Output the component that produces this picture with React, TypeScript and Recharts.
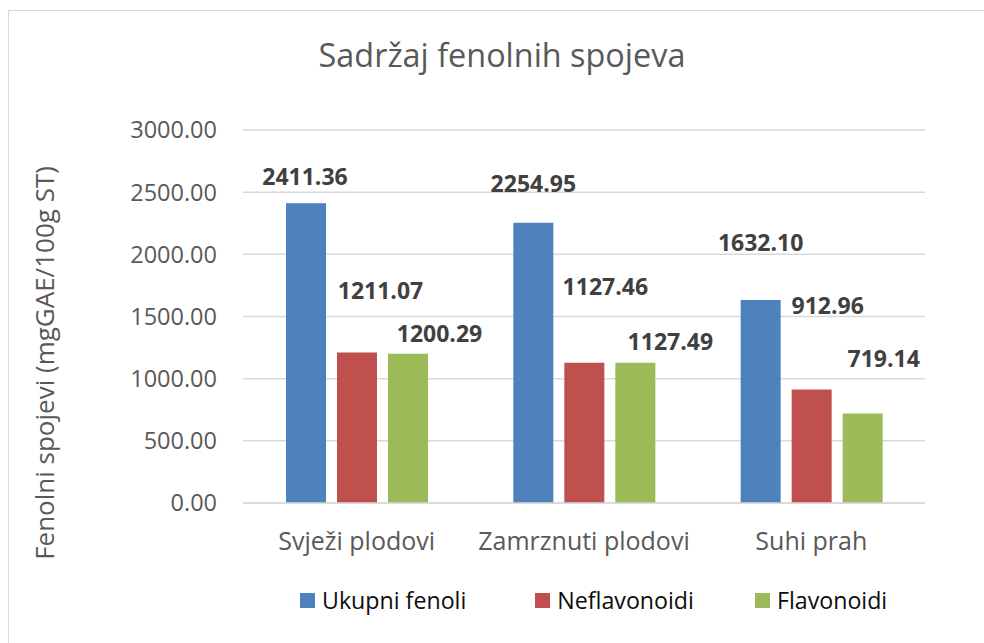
import React from 'react';
import { BarChart, Bar, XAxis, YAxis, CartesianGrid, LabelList, Legend } from 'recharts';

const categories = ['Svježi plodovi', 'Zamrznuti plodovi', 'Suhi prah'];
const ukupniFenoli = [2411.36, 2254.95, 1632.1];
const neflavonoidi = [1211.07, 1127.46, 912.96];
const flavonoidi = [1200.29, 1127.49, 719.14];
const yTicks = [0, 500, 1000, 1500, 2000, 2500, 3000];
const seriesNames = ['Ukupni fenoli', 'Neflavonoidi', 'Flavonoidi'];
const chartTitle = 'Sadržaj fenolnih spojeva';
const yAxisTitle = 'Fenolni spojevi (mgGAE/100g ST)';

const data = categories.map((c, i) => ({
  name: c,
  uk: ukupniFenoli[i],
  nef: neflavonoidi[i],
  fla: flavonoidi[i],
}));

// layout-only nudges for the data labels (dx, dy from the bar's top centre)
const labelNudges: Record<string, number[][]> = {
  uk: [[-1, -27], [0, -40], [0, -58]],
  nef: [[23.5, -62.5], [21, -76.5], [16, -84.5]],
  fla: [[31.5, -21], [35, -21.5], [21, -56]],
};
const legendGaps = [69, 61, 0];

const COLORS = { uk: '#4F81BD', nef: '#C0504D', fla: '#9BBB59' };
const FONT = '"Open Sans", sans-serif';

const makeLabel = (key: string) => (props: any) => {
  const { x, y, width, value, index } = props;
  const [dx, dy] = labelNudges[key][index];
  return (
    <text
      x={Number(x) + Number(width) / 2 + dx}
      y={Number(y) + dy}
      textAnchor="middle"
      dominantBaseline="central"
      fontFamily={FONT}
      fontSize={23}
      fontWeight={700}
      fill="#404040"
    >
      {Number(value).toFixed(2)}
    </text>
  );
};

const LegendContent = (props: any) => {
  const payload = [...(props.payload || [])].sort(
    (a: any, b: any) => seriesNames.indexOf(a.value) - seriesNames.indexOf(b.value)
  );
  return (
    <div style={{ display: 'flex', justifyContent: 'flex-start', paddingLeft: 300, fontFamily: FONT }}>
      {payload.map((p: any, i: number) => (
        <div key={i} style={{ display: 'flex', alignItems: 'center', marginRight: legendGaps[i] }}>
          <div style={{ width: 15, height: 15, background: p.color, marginRight: 7 }} />
          <span style={{ fontSize: 23.2, color: '#0d0d0d', lineHeight: '30px' }}>{p.value}</span>
        </div>
      ))}
    </div>
  );
};

export default function App() {
  return (
    <div style={{ position: 'fixed', left: 0, top: 0, width: 984, height: 643, overflow: 'hidden', background: '#fff' }}>
      <div
        style={{
          position: 'absolute',
          left: 8,
          top: 10,
          width: 1000,
          height: 700,
          border: '1px solid #D9D9D9',
          boxSizing: 'border-box',
        }}
      />
      <div
        style={{
          position: 'absolute',
          left: 0,
          width: 1004,
          top: 31,
          textAlign: 'center',
          fontFamily: FONT,
          fontSize: 32.4,
          color: '#595959',
          lineHeight: '46px',
        }}
      >
        {chartTitle}
      </div>
      <div style={{ position: 'absolute', left: 0, top: 0 }}>
        <BarChart
          width={984}
          height={643}
          data={data}
          margin={{ top: 130, right: 59, left: 143, bottom: 110 }}
          barCategoryGap={43}
          barGap={11}
        >
          <CartesianGrid vertical={false} stroke="#D9D9D9" strokeWidth={1.5} />
          <XAxis
            dataKey="name"
            height={30}
            tickLine={false}
            tickSize={0}
            tickMargin={29}
            axisLine={{ stroke: '#D9D9D9', strokeWidth: 1.5 }}
            tick={{ fontFamily: FONT, fontSize: 25, fill: '#595959' }}
            interval={0}
          />
          <YAxis
            width={100}
            domain={[0, 3000]}
            ticks={yTicks}
            axisLine={false}
            tickLine={false}
            tickSize={0}
            tickMargin={26}
            tickFormatter={(v: number) => v.toFixed(2)}
            tick={{ fontFamily: FONT, fontSize: 23.5, fill: '#595959' }}
            label={{
              content: () => (
                <text
                  x={44}
                  y={363}
                  transform="rotate(-90 44 363)"
                  textAnchor="middle"
                  dominantBaseline="central"
                  fontFamily={FONT}
                  fontSize={26}
                  fill="#595959"
                >
                  {yAxisTitle}
                </text>
              ),
            }}
          />
          <Legend
            layout="horizontal"
            verticalAlign="middle"
            align="center"
            wrapperStyle={{ top: 585, left: 0, width: 984 }}
            content={<LegendContent />}
          />
          <Bar dataKey="uk" name={seriesNames[0]} fill={COLORS.uk} isAnimationActive={false}>
            <LabelList dataKey="uk" content={makeLabel('uk')} />
          </Bar>
          <Bar dataKey="nef" name={seriesNames[1]} fill={COLORS.nef} isAnimationActive={false}>
            <LabelList dataKey="nef" content={makeLabel('nef')} />
          </Bar>
          <Bar dataKey="fla" name={seriesNames[2]} fill={COLORS.fla} isAnimationActive={false}>
            <LabelList dataKey="fla" content={makeLabel('fla')} />
          </Bar>
        </BarChart>
      </div>
    </div>
  );
}
